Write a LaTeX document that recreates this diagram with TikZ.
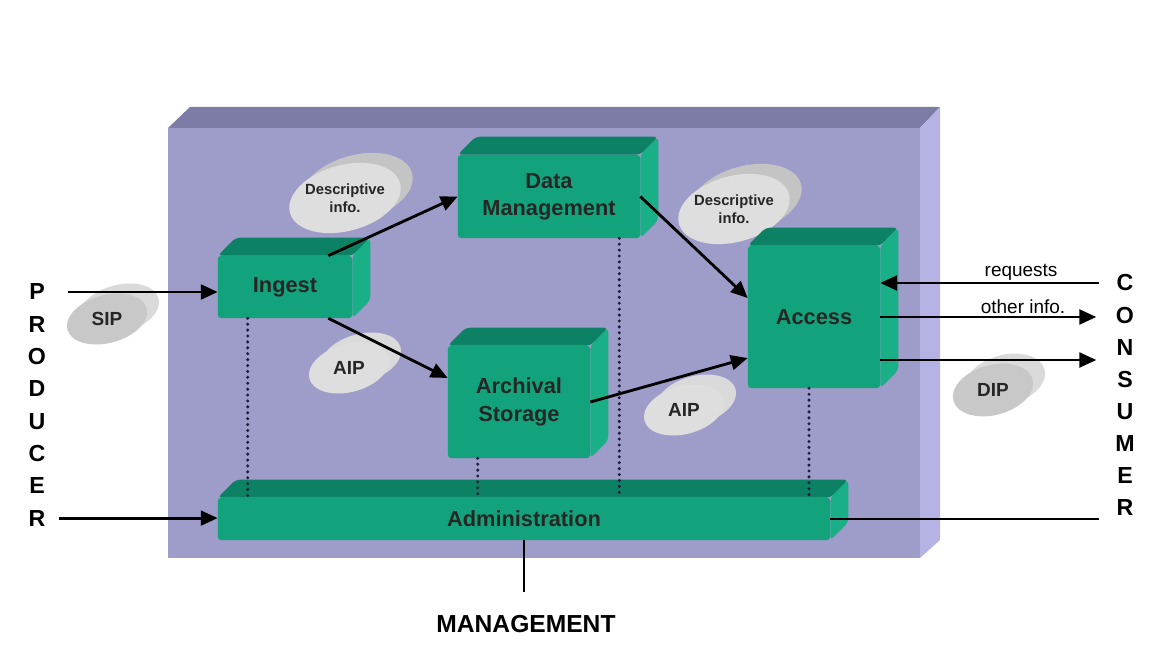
\documentclass[tikz,border=0pt]{standalone}
\usepackage{fontspec}
\setmainfont{Liberation Sans}
\usetikzlibrary{arrows.meta}

\definecolor{boardfront}{HTML}{9E9CC9}
\definecolor{boardtop}{HTML}{7D7CA6}
\definecolor{boardside}{HTML}{B5B3E3}
\definecolor{modfront}{HTML}{13A37C}
\definecolor{modtop}{HTML}{0C8163}
\definecolor{modside}{HTML}{19B088}
\definecolor{pkgfront}{HTML}{C8C8C8}
\definecolor{pkgback}{HTML}{DADADA}
\definecolor{descfront}{HTML}{DEDEDE}
\definecolor{descback}{HTML}{C4C4C4}
\definecolor{dotcol}{HTML}{1E1E3C}

\tikzset{
  module/.style={rectangle, rounded corners=2pt, fill=modfront, inner sep=0pt, align=center,
    font=\fontsize{15.5}{19}\selectfont\bfseries, text=black!85},
  letter/.style={font=\fontsize{16.5}{17}\selectfont\bfseries, inner sep=1pt},
  cloudtext/.style={font=\fontsize{13.5}{15}\selectfont\bfseries, text=black!85, inner sep=1pt, align=center},
  desctext/.style={font=\fontsize{10.5}{12.5}\selectfont\bfseries, text=black!85, inner sep=1pt, align=center},
  lbl/.style={font=\fontsize{13.5}{15}\selectfont, inner sep=1pt},
  flow/.style={line width=2pt, -{Triangle[length=12pt,width=10.5pt]}},
  plain/.style={line width=2pt},
  dots/.style={dotcol, line width=2.4pt, line cap=round, dash pattern=on 0pt off 4.2pt}
}

% top and right faces of a module
\newcommand{\modfaces}[1]{%
  \fill[modtop, rounded corners=3pt] (#1.north west) -- ++(18,18) -- ([shift={(18,18)}]#1.north east) -- (#1.north east) -- cycle;
  \fill[modside, rounded corners=3pt] (#1.north east) -- ++(18,18) -- ([shift={(18,18)}]#1.south east) -- (#1.south east) -- cycle;}

% grey information package
\newcommand{\infocloud}[9]{%
  \fill[#8, rotate around={15:(#2+12,#3+10)}] (#2+12,#3+10) ellipse (#4 and #5);
  \fill[#9, rotate around={15:(#2,#3)}] (#2,#3) ellipse (#4 and #5);
  \node[#7] (#1) at (#2,#3) {#6};}

\begin{document}
\begin{tikzpicture}[x=0.025cm, y=0.025cm]
\fill[white] (0,0) rectangle (1160,664);
\useasboundingbox (0,0) rectangle (1160,664);

% board
\fill[boardfront] (168,106) rectangle (920,536);
\fill[boardtop] (168,536) -- (190,557) -- (940,557) -- (920,536) -- cycle;
\fill[boardside] (920,536) -- (940,557) -- (940,124) -- (920,106) -- cycle;

% packages
\infocloud{descl}{345}{466}{57}{33}{Descriptive\\info.}{desctext}{descback}{descfront}
\infocloud{descr}{734}{455}{57}{33}{Descriptive\\info.}{desctext}{descback}{descfront}
\infocloud{sip}{107}{345}{41}{24}{SIP}{cloudtext}{pkgback}{pkgfront}
\infocloud{aipl}{349}{296}{41}{24}{AIP}{cloudtext}{pkgback}{descfront}
\infocloud{aipr}{684}{254}{41}{24}{AIP}{cloudtext}{pkgback}{descfront}
\infocloud{dip}{993}{274}{41}{25}{DIP}{cloudtext}{pkgback}{pkgfront}

% modules
\node[module, minimum width=3.35cm, minimum height=1.55cm] (ingest) at (285,377) {Ingest};
\node[module, minimum width=4.55cm, minimum height=2.075cm] (dm) at (549,467.5) {Data\\Management};
\node[module, minimum width=3.55cm, minimum height=2.8cm, font=\fontsize{15.5}{20}\selectfont\bfseries] (store) at (519,262) {Archival\\Storage};
\node[module, minimum width=3.3cm, minimum height=3.55cm] (access) at (814,347) {Access};
\node[module, minimum width=15.3cm, minimum height=1.05cm] (admin) at (524,145) {Administration};
\modfaces{ingest}
\modfaces{dm}
\modfaces{store}
\modfaces{access}
\modfaces{admin}

% producer and consumer
\foreach \l [count=\i] in {P,R,O,D,U,C,E,R}
  \node[letter] (p\i) at (37,{372-(\i-1)*32.3}) {\l};
\foreach \l [count=\i] in {C,O,N,S,U,M,E,R}
  \node[letter] (c\i) at (1125,{381-(\i-1)*32.1}) {\l};
\node[letter, font=\fontsize{17.5}{18}\selectfont\bfseries] (mgmt) at (526,40) {MANAGEMENT};

% dotted links to administration
\coordinate (d1) at ([xshift=0.75cm]ingest.south west);
\coordinate (d2) at ([xshift=0.75cm]store.south west);
\coordinate (d3) at ([xshift=-0.525cm]dm.south east);
\coordinate (d4) at ([xshift=-0.125cm]access.south);
\foreach \d in {d1,d2,d3,d4}
  \draw[dots] (\d) -- (\d |- admin.north);

% flows
\draw[flow, shorten <=0.55cm] (p1.east) -- (p1.east -| ingest.west);
\draw[flow, shorten <=0.3cm] (p8.east) -- (p8.east -| admin.west);
\draw[flow] ([xshift=-0.6cm]ingest.north east) -- (dm.west);
\draw[flow] ([xshift=-0.6cm]ingest.south east) -- ([yshift=0.6cm]store.west);
\draw[flow] (dm.east) -- ([yshift=0.475cm]access.west);
\draw[flow] (store.east) -- ([yshift=-1.025cm]access.west);
\draw[flow, shorten <=0.4cm] (c1.west) -- node[lbl, above, pos=0.4] {requests} (c1.west -| access.east);
\draw[flow, shorten >=0.45cm] (access.east) -- node[lbl, above, pos=0.61] {other info.} (access.east -| c2.west);
\draw[flow, shorten >=0.45cm] ([yshift=-1.075cm]access.east) -- ([yshift=-1.075cm]access.east -| c2.west);
\draw[plain, shorten >=0.4cm] (admin.east) -- (admin.east -| c8.west);
\draw[plain, shorten >=0.55cm] (admin.south) -- (admin.south |- mgmt.north);
\end{tikzpicture}
\end{document}
